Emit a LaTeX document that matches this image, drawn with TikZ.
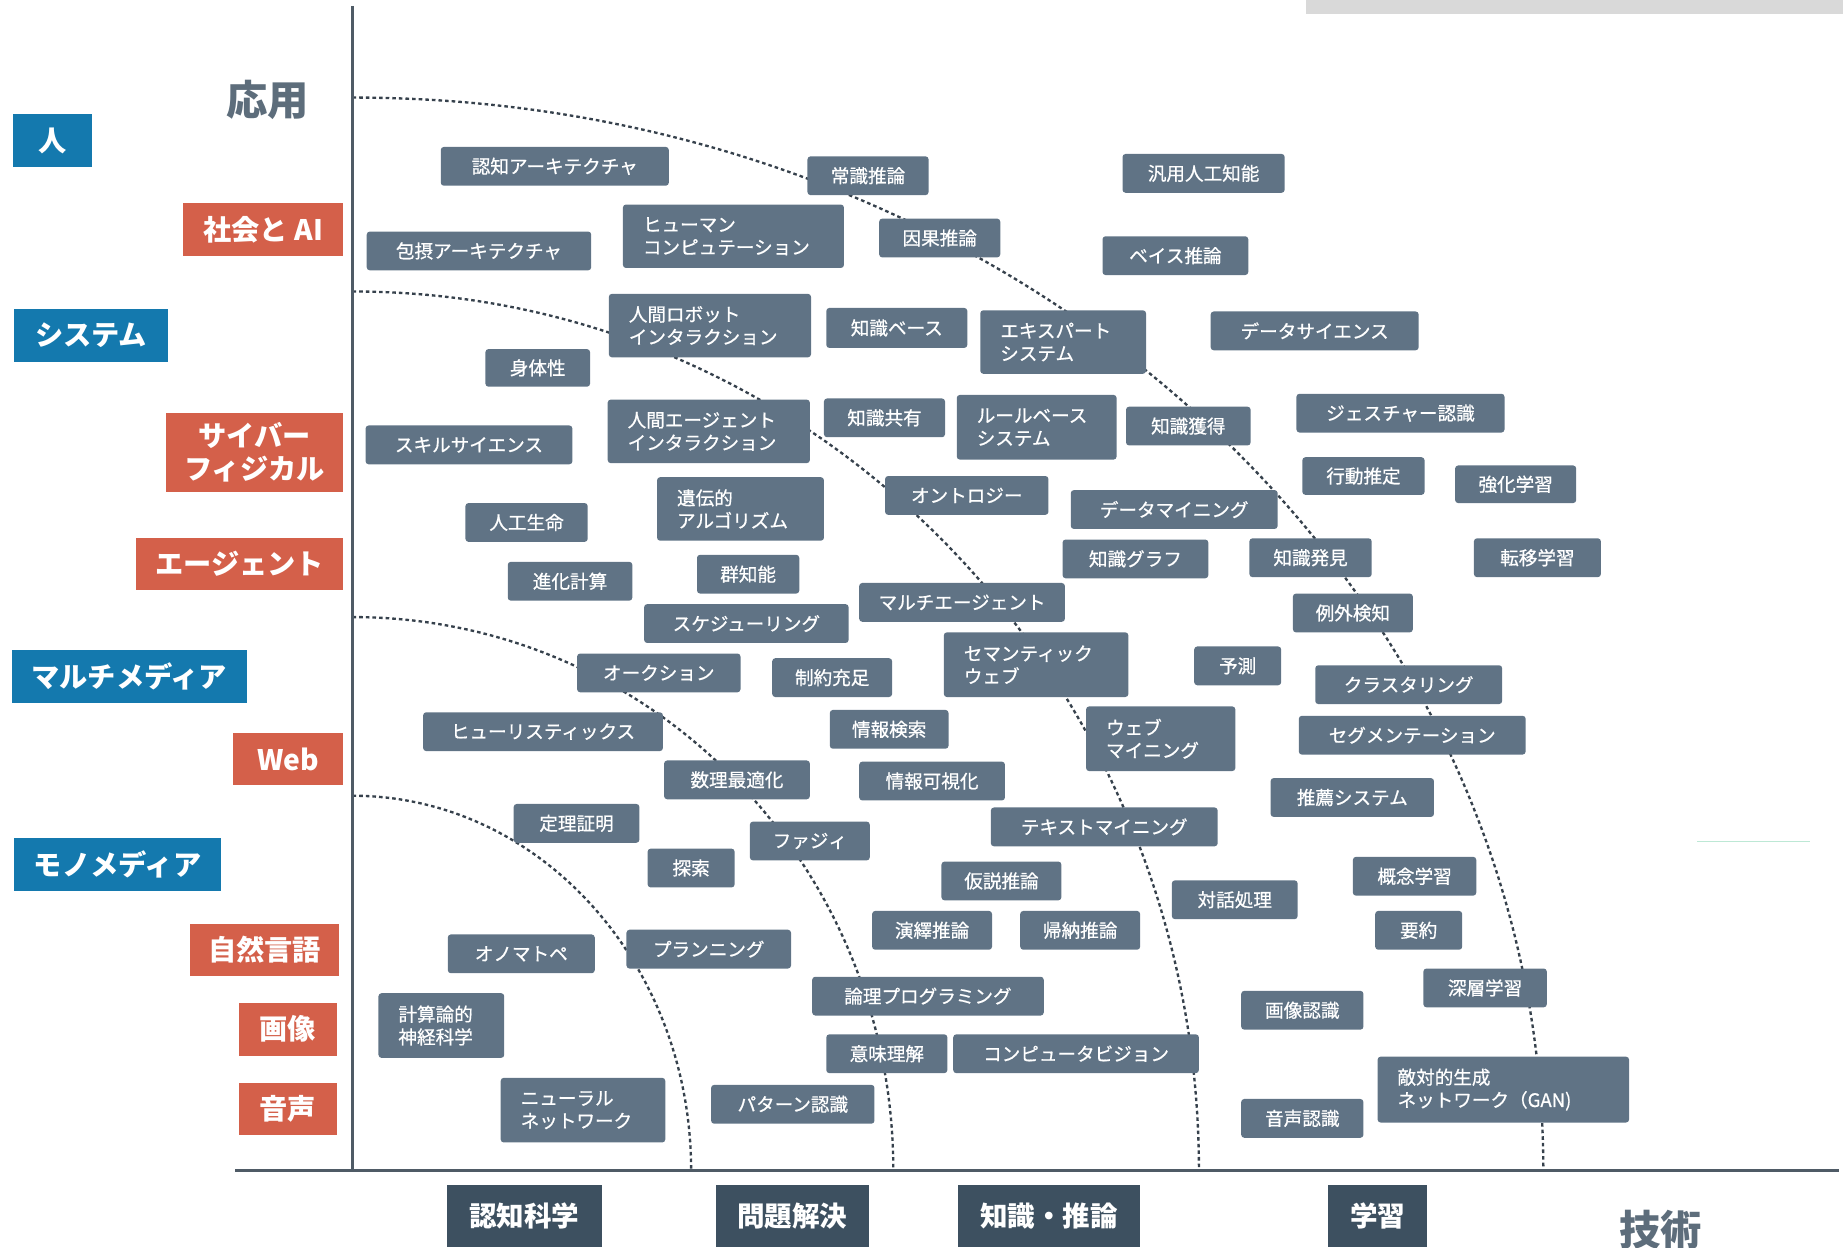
\documentclass[tikz,border=0pt]{standalone}
\usepackage{fontspec}
\setmainfont{Noto Sans CJK JP}
\newfontfamily\mymedfont{Noto Sans CJK JP}[FakeBold=0.7]
\definecolor{cblue}{HTML}{1479AE}
\definecolor{cred}{HTML}{D4604A}
\definecolor{cslate}{HTML}{607385}
\definecolor{cdark}{HTML}{3D5060}
\definecolor{ctitle}{HTML}{5D6D7B}
\definecolor{caxis}{HTML}{4F5B66}
\definecolor{cdash}{HTML}{36414C}
\definecolor{cbar}{HTML}{D9D9D9}
\definecolor{cgreen}{HTML}{BDE8D5}
\tikzset{
 gbox/.style={fill=cslate, rounded corners=2.2pt, text=white, inner sep=0pt, font=\mymedfont\fontsize{13.5}{16.5}\selectfont},
 catbox/.style={inner sep=0pt, text=white, align=center, font=\fontsize{20.5}{24}\selectfont\bfseries},
 axbox/.style={fill=cdark, inner sep=0pt, text=white, font=\fontsize{20}{24}\selectfont\bfseries},
 ttl/.style={text=ctitle, inner sep=0pt, font=\fontsize{30}{34}\selectfont\bfseries},
 axline/.style={draw=caxis, line width=2pt},
 arcline/.style={draw=cdash, line width=1.7pt, dash pattern=on 2.6pt off 2.2pt},
}
\newcommand\mybox[6]{\node[gbox, minimum width={(#4-#2)*0.03cm}, minimum height={(#5-#3)*0.03cm}] (#1) at ({(#2+#4)/2},{(#3+#5)/2}) {#6};}
\newcommand\myboxl[6]{\pgfmathsetlengthmacro\mytw{(#4-#2-34)*0.03cm}\node[gbox, align=left, text width=\mytw, minimum width={(#4-#2)*0.03cm}, minimum height={(#5-#3)*0.03cm}] (#1) at ({(#2+#4)/2},{(#3+#5)/2}) {#6};}
\newcommand\mycat[7]{\node[catbox, fill=#7, minimum width={(#4-#2)*0.03cm}, minimum height={(#5-#3)*0.03cm}] (#1) at ({(#2+#4)/2},{(#3+#5)/2}) {#6};}
\newcommand\myax[6]{\node[axbox, minimum width={(#4-#2)*0.03cm}, minimum height={(#5-#3)*0.03cm}] (#1) at ({(#2+#4)/2},{(#3+#5)/2}) {#6};}
\begin{document}
\begin{tikzpicture}[x=0.03cm,y=-0.03cm]
\useasboundingbox (0,0) rectangle (1568,1061);
% decorations
\fill[cbar] (1111,0) rectangle (1568,12);
\draw[cgreen, line width=0.7pt] (1444,716) -- (1540,716);
% dashed arcs
\draw[arcline] (300,83) arc[start angle=90, end angle=0, x radius=30.39cm, y radius=27.39cm];
\draw[arcline] (300,248) arc[start angle=90, end angle=0, x radius=21.6cm, y radius=22.44cm];
\draw[arcline] (300,525) arc[start angle=90, end angle=0, x radius=13.8cm, y radius=14.13cm];
\draw[arcline] (300,677) arc[start angle=90, end angle=0, x radius=8.64cm, y radius=9.57cm];
% axes
\coordinate (vtop) at (300,5);
\coordinate (orig) at (300,996);
\coordinate (hleft) at (200,996);
\coordinate (hright) at (1565,996);
\draw[axline] (vtop) -- (orig);
\draw[axline] (hleft) -- (hright);
% titles
\node[ttl] (tapp) at (228,85) {応用};
\node[ttl] (ttech) at (1413,1046) {技術};
% category labels
\mycat{c1}{11}{97}{78}{142}{人}{cblue}
\mycat{c2}{156}{173}{292}{218}{社会と AI}{cred}
\mycat{c3}{12}{263}{143}{308}{システム}{cblue}
\mycat{c4}{141}{351}{292}{419}{サイバー\\フィジカル}{cred}
\mycat{c5}{116}{458}{292}{502}{エージェント}{cred}
\mycat{c6}{10}{553}{210}{598}{マルチメディア}{cblue}
\mycat{c7}{198}{624}{292}{668}{Web}{cred}
\mycat{c8}{12}{713}{188}{758}{モノメディア}{cblue}
\mycat{c9}{162}{786}{288}{830}{自然言語}{cred}
\mycat{c10}{203}{853}{287}{898}{画像}{cred}
\mycat{c11}{203}{921}{287}{966}{音声}{cred}
% bottom axis boxes
\myax{a1}{380}{1008}{512}{1061}{認知科学}
\myax{a2}{609}{1008}{739}{1061}{問題解決}
\myax{a3}{815}{1008}{970}{1061}{知識・推論}
\myax{a4}{1130}{1008}{1214}{1061}{学習}
% topic boxes
\mybox{n1}{375}{125}{569}{158}{認知アーキテクチャ}
\mybox{n2}{687}{133}{790}{166}{常識推論}
\mybox{n3}{955}{131}{1093}{164}{汎用人工知能}
\mybox{n4}{312}{197}{503}{230}{包摂アーキテクチャ}
\myboxl{n5}{530}{174}{718}{228}{ヒューマン\\コンピュテーション}
\mybox{n6}{748}{186}{851}{219}{因果推論}
\mybox{n7}{938}{201}{1062}{234}{ベイス推論}
\myboxl{n8}{518}{250}{690}{304}{人間ロボット\\インタラクション}
\mybox{n9}{703}{262}{823}{296}{知識ベース}
\myboxl{n10}{834}{264}{975}{318}{エキスパート\\システム}
\mybox{n11}{1030}{265}{1207}{298}{データサイエンス}
\mybox{n12}{413}{297}{502}{329}{身体性}
\myboxl{n13}{517}{340}{689}{394}{人間エージェント\\インタラクション}
\mybox{n14}{701}{339}{804}{372}{知識共有}
\myboxl{n15}{814}{336}{950}{391}{ルールベース\\システム}
\mybox{n16}{958}{346}{1064}{379}{知識獲得}
\mybox{n17}{1103}{335}{1280}{368}{ジェスチャー認識}
\mybox{n18}{311}{362}{487}{395}{スキルサイエンス}
\mybox{n19}{1108}{389}{1212}{421}{行動推定}
\mybox{n20}{1238}{396}{1341}{428}{強化学習}
\mybox{n21}{753}{405}{892}{438}{オントロジー}
\myboxl{n22}{559}{406}{701}{460}{遺伝的\\アルゴリズム}
\mybox{n23}{911}{417}{1087}{450}{データマイニング}
\mybox{n24}{396}{428}{500}{461}{人工生命}
\mybox{n25}{904}{459}{1028}{492}{知識グラフ}
\mybox{n26}{1063}{458}{1167}{491}{知識発見}
\mybox{n27}{1254}{458}{1362}{491}{転移学習}
\mybox{n28}{432}{478}{538}{511}{進化計算}
\mybox{n29}{593}{472}{680}{505}{群知能}
\mybox{n30}{731}{496}{906}{529}{マルチエージェント}
\mybox{n31}{1100}{505}{1202}{538}{例外検知}
\mybox{n32}{548}{514}{722}{547}{スケジューリング}
\myboxl{n33}{803}{538}{960}{593}{セマンティック\\ウェブ}
\mybox{n34}{1016}{550}{1090}{583}{予測}
\mybox{n35}{491}{556}{630}{589}{オークション}
\mybox{n36}{657}{560}{759}{593}{制約充足}
\mybox{n37}{1119}{566}{1278}{599}{クラスタリング}
\mybox{n38}{360}{606}{564}{639}{ヒューリスティックス}
\mybox{n39}{706}{604}{807}{637}{情報検索}
\myboxl{n40}{924}{601}{1051}{656}{ウェブ\\マイニング}
\mybox{n41}{1105}{609}{1298}{642}{セグメンテーション}
\mybox{n42}{565}{647}{689}{680}{数理最適化}
\mybox{n43}{731}{648}{855}{681}{情報可視化}
\mybox{n44}{1081}{662}{1220}{695}{推薦システム}
\mybox{n45}{437}{684}{544}{717}{定理証明}
\mybox{n46}{843}{687}{1036}{720}{テキストマイニング}
\mybox{n47}{638}{699}{740}{732}{ファジィ}
\mybox{n48}{551}{722}{625}{755}{探索}
\mybox{n49}{801}{733}{903}{766}{仮説推論}
\mybox{n50}{1151}{729}{1256}{762}{概念学習}
\mybox{n51}{997}{749}{1104}{782}{対話処理}
\mybox{n52}{742}{775}{844}{808}{演繹推論}
\mybox{n53}{868}{775}{970}{808}{帰納推論}
\mybox{n54}{1170}{775}{1244}{808}{要約}
\mybox{n55}{381}{795}{506}{828}{オノマトペ}
\mybox{n56}{533}{791}{673}{824}{プランニング}
\mybox{n57}{1211}{824}{1316}{857}{深層学習}
\mybox{n58}{691}{831}{888}{864}{論理プログラミング}
\myboxl{n59}{322}{845}{429}{900}{計算論的\\神経科学}
\mybox{n60}{1056}{843}{1160}{876}{画像認識}
\mybox{n61}{703}{880}{806}{913}{意味理解}
\mybox{n62}{811}{880}{1020}{913}{コンピュータビジョン}
\myboxl{n63}{1172}{899}{1386}{955}{敵対的生成\\ネットワーク（GAN)}
\myboxl{n64}{426}{917}{566}{972}{ニューラル\\ネットワーク}
\mybox{n65}{605}{923}{744}{956}{パターン認識}
\mybox{n66}{1056}{935}{1160}{968}{音声認識}
\end{tikzpicture}
\end{document}
